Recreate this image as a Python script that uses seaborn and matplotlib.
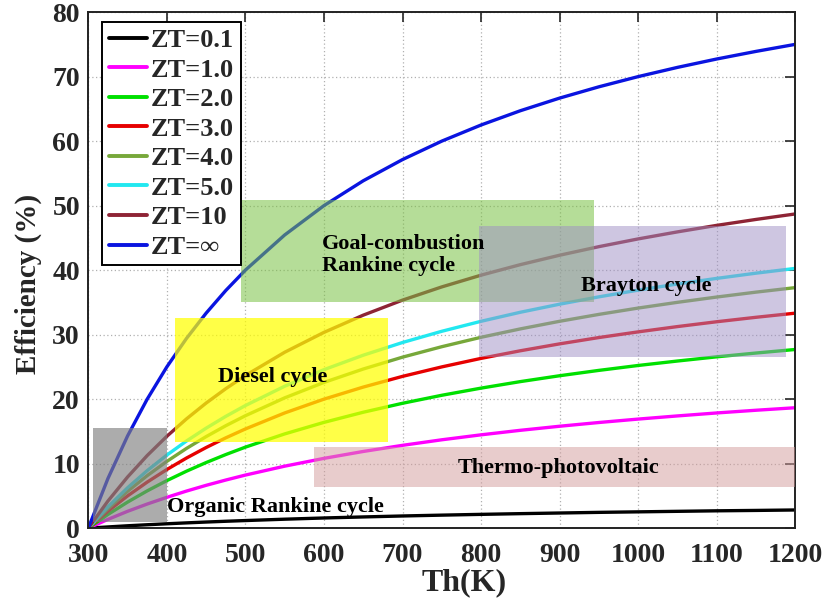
import matplotlib
matplotlib.use("Agg")
import matplotlib.pyplot as plt
from matplotlib.patches import Rectangle
from matplotlib.lines import Line2D
import seaborn as sns
import pandas as pd

# Hot-side temperature (K), cold side fixed at 300 K
th = [300, 325, 350, 375, 400, 425, 450, 475, 500, 550, 600, 650, 700, 750,
      800, 850, 900, 950, 1000, 1050, 1100, 1150, 1200]

# Conversion efficiency (%) for each figure of merit
eff_zt01 = [0, 0.19, 0.37, 0.53, 0.68, 0.82, 0.95, 1.07, 1.18, 1.39, 1.58, 1.74, 1.89, 2.02,
            2.14, 2.25, 2.35, 2.45, 2.53, 2.61, 2.69, 2.75, 2.82]
eff_zt1 = [0, 1.36, 2.61, 3.74, 4.78, 5.75, 6.64, 7.46, 8.23, 9.61, 10.82, 11.89, 12.84, 13.70,
           14.47, 15.17, 15.80, 16.38, 16.91, 17.40, 17.86, 18.28, 18.67]
eff_zt2 = [0, 2.12, 4.04, 5.78, 7.37, 8.83, 10.17, 11.41, 12.56, 14.61, 16.40, 17.97, 19.36, 20.60,
           21.71, 22.72, 23.63, 24.46, 25.22, 25.91, 26.56, 27.15, 27.70]
eff_zt3 = [0, 2.63, 5.00, 7.14, 9.09, 10.87, 12.50, 14.00, 15.38, 17.86, 20.00, 21.87, 23.53, 25.00,
           26.32, 27.50, 28.57, 29.55, 30.43, 31.25, 32.00, 32.69, 33.33]
eff_zt4 = [0, 3.01, 5.71, 8.14, 10.35, 12.36, 14.19, 15.88, 17.43, 20.20, 22.59, 24.67, 26.51, 28.13,
           29.59, 30.89, 32.07, 33.14, 34.12, 35.01, 35.83, 36.59, 37.29]
eff_zt5 = [0, 3.31, 6.26, 8.92, 11.33, 13.51, 15.50, 17.33, 19.01, 22.00, 24.57, 26.81, 28.78, 30.52,
           32.07, 33.47, 34.72, 35.86, 36.90, 37.85, 38.72, 39.53, 40.27]
eff_zt10 = [0, 4.20, 7.93, 11.26, 14.24, 16.94, 19.39, 21.62, 23.66, 27.27, 30.35, 33.02, 35.35, 37.40,
            39.22, 40.85, 42.31, 43.64, 44.84, 45.93, 46.94, 47.86, 48.71]
eff_carnot = [0, 7.69, 14.29, 20.00, 25.00, 29.41, 33.33, 36.84, 40.00, 45.45, 50.00, 53.85, 57.14, 60.00,
              62.50, 64.71, 66.67, 68.42, 70.00, 71.43, 72.73, 73.91, 75.00]

series_labels = ["ZT=0.1", "ZT=1.0", "ZT=2.0", "ZT=3.0", "ZT=4.0", "ZT=5.0", "ZT=10", "ZT=\u221e"]
series_values = [eff_zt01, eff_zt1, eff_zt2, eff_zt3, eff_zt4, eff_zt5, eff_zt10, eff_carnot]
series_colors = ["#000000", "#ff00ff", "#00e000", "#e60000", "#77a83a", "#22e8f0", "#8e2435", "#0a14e0"]

# Heat-engine operating regions: label, (T min, T max), (eff min, eff max), fill colour, alpha
region_names = ["Organic Rankine cycle", "Diesel cycle", "Goal-combustion\nRankine cycle",
                "Brayton cycle", "Thermo-photovoltaic"]
region_t = [(306, 400), (410, 682), (494, 944), (798, 1188), (587, 1200)]
region_eff = [(1.0, 15.5), (13.3, 32.6), (35.0, 50.9), (26.5, 46.8), (6.4, 12.6)]
region_fill = ["#808080", "#ffff00", "#79c143", "#9e8ec4", "#d29a9a"]
region_alpha = [0.65, 0.72, 0.55, 0.5, 0.5]
# Label anchor (T, eff, horizontal alignment)
region_label_pos = [(400, 3.3, "left"), (535, 23.4, "center"), (597, 42.3, "left"),
                    (1010, 37.5, "center"), (899, 9.3, "center")]

rows = []
for lab, vals in zip(series_labels, series_values):
    for t, v in zip(th, vals):
        rows.append({"Th": t, "Efficiency": v, "series": lab})
df = pd.DataFrame(rows)

sns.set_style("white")
serif = ["Liberation Serif", "DejaVu Serif"]
plt.rcParams["font.family"] = serif
plt.rcParams["font.weight"] = "bold"

fig = plt.figure(figsize=(8.25, 6.05), dpi=100)
ax = fig.add_axes([0.107, 0.127, 0.857, 0.853])

sns.lineplot(data=df, x="Th", y="Efficiency", hue="series", hue_order=series_labels,
             palette=dict(zip(series_labels, series_colors)), linewidth=2.4,
             legend=False, ax=ax, zorder=2)

for name, (t0, t1), (e0, e1), col, a, (lx, ly, ha) in zip(
        region_names, region_t, region_eff, region_fill, region_alpha, region_label_pos):
    ax.add_patch(Rectangle((t0, e0), t1 - t0, e1 - e0, facecolor=col, edgecolor="none",
                           alpha=a, zorder=3))
    ax.text(lx, ly, name, ha=ha, va="center", fontsize=16, fontweight="bold",
            color="black", zorder=4, linespacing=1.15)

ax.set_xlim(300, 1200)
ax.set_ylim(0, 80)
ax.set_xticks(range(300, 1201, 100))
ax.set_yticks(range(0, 81, 10))
ax.grid(True, linestyle=(0, (1, 2)), color="#b0b0b0", linewidth=0.9, zorder=0)
ax.tick_params(direction="in", length=7, width=1.2, top=True, right=True, labelsize=20)
ax.tick_params(axis="x", pad=11)
ax.tick_params(axis="y", pad=6)
for lbl in ax.get_xticklabels() + ax.get_yticklabels():
    lbl.set_fontweight("bold")
for sp in ax.spines.values():
    sp.set_linewidth(1.4)
    sp.set_color("#222222")

ax.set_xlabel("Th(K)", fontsize=23, fontweight="bold")
ax.set_ylabel("Efficiency (%)", fontsize=21, fontweight="bold")
ax.xaxis.set_label_coords(0.532, -0.078)
ax.yaxis.set_label_coords(-0.066, 0.473)

handles = [Line2D([0], [0], color=c, linewidth=2.8) for c in series_colors]
leg = ax.legend(handles, series_labels, loc="upper left", bbox_to_anchor=(0.02, 0.981),
                prop={"family": serif, "weight": "bold", "size": 19},
                frameon=True, fancybox=False, edgecolor="black", framealpha=1,
                handlelength=1.45, handletextpad=0.15, labelspacing=0.23,
                borderpad=0.25, borderaxespad=0.0)
leg.get_frame().set_linewidth(1.4)
leg.set_zorder(10)

fig.savefig("out.png", dpi=100)
